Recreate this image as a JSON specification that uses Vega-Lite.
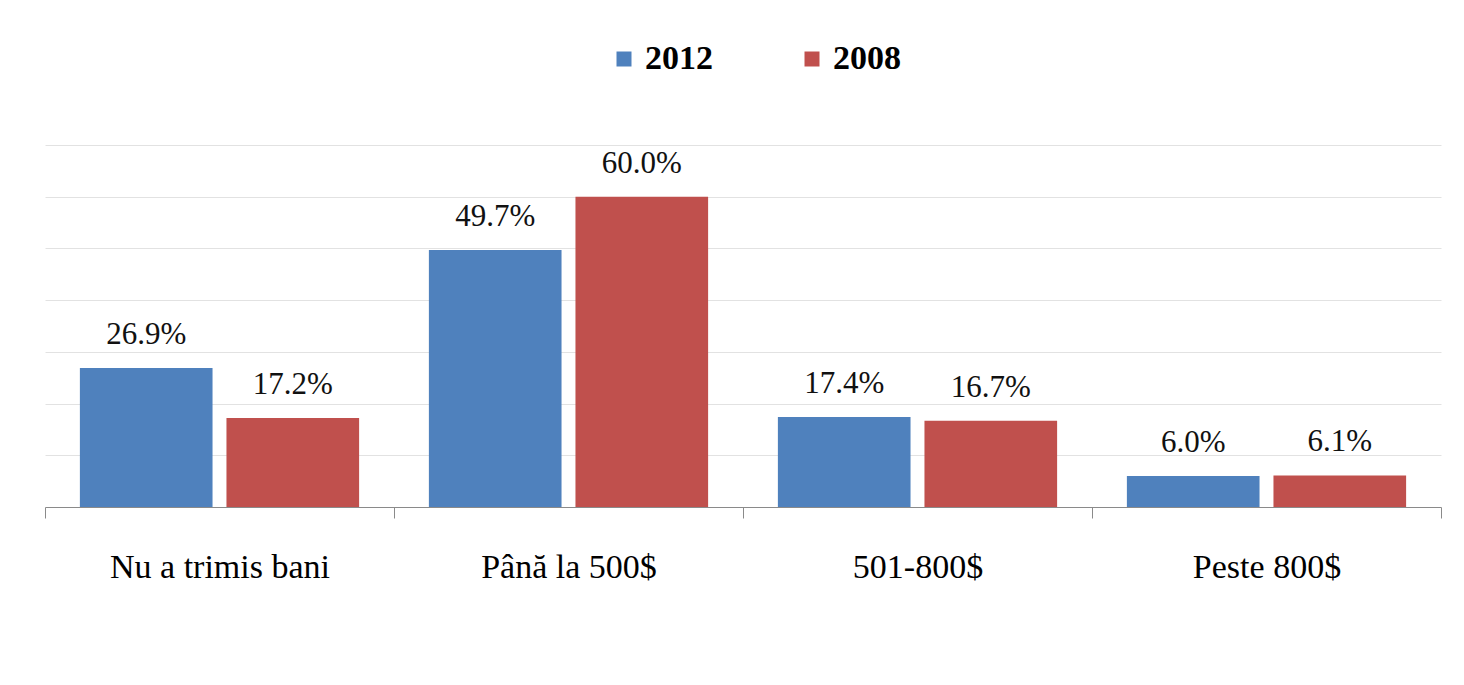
{
  "$schema": "https://vega.github.io/schema/vega-lite/v6.json",
  "width": 1396,
  "height": 362,
  "autosize": {"type": "none"},
  "padding": {"left": 45, "top": 145, "right": 23, "bottom": 178},
  "background": "white",
  "data": {
    "values": [
      {"cat": "Nu a trimis bani", "year": "2012", "value": 0.269},
      {"cat": "Nu a trimis bani", "year": "2008", "value": 0.172},
      {"cat": "Până la 500$", "year": "2012", "value": 0.497},
      {"cat": "Până la 500$", "year": "2008", "value": 0.600},
      {"cat": "501-800$", "year": "2012", "value": 0.174},
      {"cat": "501-800$", "year": "2008", "value": 0.167},
      {"cat": "Peste 800$", "year": "2012", "value": 0.060},
      {"cat": "Peste 800$", "year": "2008", "value": 0.061}
    ]
  },
  "encoding": {
    "x": {
      "field": "cat", "type": "nominal", "sort": null,
      "scale": {"paddingInner": 0, "paddingOuter": 0},
      "axis": {
        "title": null, "labelAngle": 0, "tickBand": "extent", "tickSize": 11,
        "tickColor": "#8a8a8a", "domainColor": "#8a8a8a", "tickWidth": 1, "domainWidth": 1,
        "labelFont": "Liberation Serif", "labelFontSize": 34, "labelColor": "#000000",
        "labelPadding": 32, "labelLimit": 500
      }
    },
    "xOffset": {
      "field": "year", "type": "nominal", "sort": ["2012", "2008"],
      "scale": {"paddingInner": 0.095, "paddingOuter": 0.238}
    },
    "y": {
      "field": "value", "type": "quantitative",
      "scale": {"domain": [0, 0.7], "nice": false},
      "axis": {
        "title": null, "labels": false, "ticks": false, "domain": false, "grid": true,
        "values": [0.1, 0.2, 0.3, 0.4, 0.5, 0.6, 0.7],
        "gridColor": "#e2e2e2", "gridWidth": 1
      }
    }
  },
  "layer": [
    {
      "mark": {"type": "bar"},
      "encoding": {
        "color": {
          "field": "year", "type": "nominal",
          "scale": {"domain": ["2012", "2008"], "range": ["#4F81BD", "#C0504D"]},
          "legend": {
            "title": null, "orient": "none", "legendX": 562, "legendY": -103,
            "direction": "horizontal", "symbolType": "square", "symbolSize": 225,
            "symbolStrokeWidth": 0, "labelOffset": 4, "columnPadding": 82,
            "labelFont": "Liberation Serif", "labelFontSize": 34, "labelFontWeight": "bold",
            "labelColor": "#000000"
          }
        }
      }
    },
    {
      "mark": {
        "type": "text", "baseline": "alphabetic", "dy": -24,
        "font": "Liberation Serif", "fontSize": 31, "color": "#111111"
      },
      "encoding": {
        "text": {"field": "value", "type": "quantitative", "format": ".1%"}
      }
    }
  ],
  "config": {
    "view": {"stroke": null}
  }
}
